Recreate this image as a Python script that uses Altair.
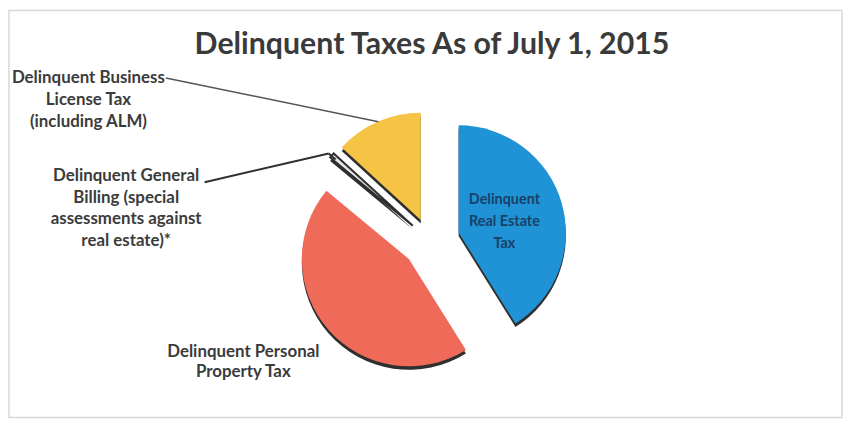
import altair as alt
import pandas as pd
import numpy as np

# ---- data (share of total, %) ----
categories = [
    "Delinquent Real Estate Tax",
    "Delinquent Personal Property Tax",
    "Delinquent General Billing (special assessments against real estate)*",
    "Delinquent Business License Tax (including ALM)",
]
values = [41.1, 44.9, 0.8, 13.2]

# ---- styles / layout ----
colors = ["#1f93d6", "#f06a5a", "#e6e6e6", "#f6c445"]
explode = [30, 28, 23, 23]          # px each slice is pulled out along its bisector
CX, CY, R = 425, 233, 108           # pie centre (plot coords) and radius
FONT = "Lato"
TXT = "#3b3b3b"

df = pd.DataFrame({"category": categories, "value": values, "order": list(range(len(values)))})

total = float(sum(values))
cum = np.cumsum(values)
mid = (cum - np.array(values) / 2) / total * 2 * np.pi
offs = [(e * np.sin(a), -e * np.cos(a)) for e, a in zip(explode, mid)]

base = (
    alt.Chart(df)
    .transform_window(end="sum(value)", sort=[alt.SortField("order")])
    .transform_calculate(start="datum.end - datum.value")
)

theta = alt.Theta("start:Q", scale=alt.Scale(domain=[0, total]), stack=False)
theta2 = alt.Theta2("end:Q")
color = alt.Color("category:N", scale=alt.Scale(domain=categories, range=colors), legend=None)

shadows, slices = [], []
for i, (dx, dy) in enumerate(offs):
    sub = base.transform_filter(alt.datum.order == i)
    shadows.append(
        sub.mark_arc(outerRadius=R, color="#2f2f2f").encode(
            theta=theta, theta2=theta2,
            x=alt.value(CX + dx), y=alt.value(CY + dy + 3.5),
        )
    )
    is_thin = values[i] < 2
    slices.append(
        sub.mark_arc(
            outerRadius=R,
            stroke="#2f2f2f" if is_thin else "#ffffff",
            strokeWidth=2 if is_thin else 0,
        ).encode(
            theta=theta, theta2=theta2, color=color,
            x=alt.value(CX + dx), y=alt.value(CY + dy),
        )
    )

anchor = alt.Chart(pd.DataFrame({"a": [0]}))

frame = anchor.mark_rect(filled=False, stroke="#d8d8d8", strokeWidth=1.5).encode(
    x=alt.value(1), x2=alt.value(840), y=alt.value(1), y2=alt.value(411)
)

lead1 = anchor.mark_rule(color="#555555", strokeWidth=1.5).encode(
    x=alt.value(159), y=alt.value(69), x2=alt.value(373), y2=alt.value(113)
)
lead2a = anchor.mark_rule(color="#2f2f2f", strokeWidth=2).encode(
    x=alt.value(198), y=alt.value(174), x2=alt.value(323), y2=alt.value(145)
)
lead2b = anchor.mark_rule(color="#2f2f2f", strokeWidth=2).encode(
    x=alt.value(323), y=alt.value(145), x2=alt.value(330), y2=alt.value(151)
)


def label(lines, x, y, size=17, col=TXT, lh=22):
    return anchor.mark_text(
        font=FONT, fontWeight="bold", fontSize=size, color=col,
        align="center", baseline="alphabetic", lineHeight=lh,
    ).encode(x=alt.value(x), y=alt.value(y), text=alt.value(lines))


title = anchor.mark_text(
    font=FONT, fontWeight="bold", fontSize=30.5, color="#3a3a3a",
    align="center", baseline="alphabetic",
).encode(x=alt.value(427), y=alt.value(45), text=alt.value("Delinquent Taxes As of July 1, 2015"))

labels = [
    label(["Delinquent Business", "License Tax", "(including ALM)"], 81, 74),
    label(["Delinquent General", "Billing (special", "assessments against", "real estate)*"], 119, 173, lh=21.7),
    label(["Delinquent Personal", "Property Tax"], 237, 350, lh=20.5),
    label(["Delinquent", "Real Estate", "Tax"], 500, 196, size=14.5, col="#1a4068", lh=22),
]

chart = (
    alt.layer(frame, *shadows, *slices, lead1, lead2a, lead2b, title, *labels)
    .properties(width=841, height=413, padding=0, autosize="none")
    .configure_view(strokeWidth=0)
)

chart.save("out.html", embed_options={"renderer": "svg", "actions": False})
